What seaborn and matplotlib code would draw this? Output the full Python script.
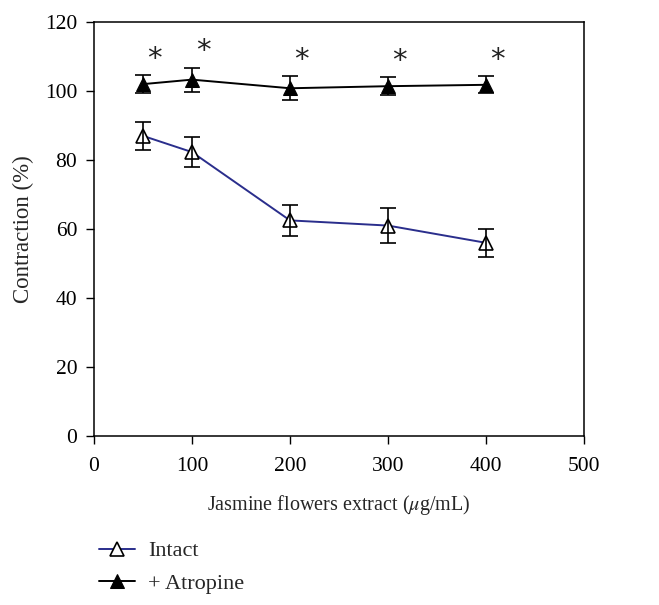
import numpy as np
import pandas as pd
import matplotlib
matplotlib.use("Agg")
import matplotlib.pyplot as plt
import seaborn as sns

# values
dose = [50, 100, 200, 300, 400]
intact = [87, 82.3, 62.5, 61, 56]
intact_err = [4, 4.3, 4.6, 5, 4]
atropine = [102, 103.3, 100.8, 101.4, 101.8]
atropine_err = [2.5, 3.5, 3.5, 2.6, 2.5]
star_labels = ["*", "*", "*", "*", "*"]

sns.set_style("ticks")
plt.rcParams["font.family"] = ["Liberation Serif", "DejaVu Serif"]
plt.rcParams["mathtext.fontset"] = "stix"

df = pd.DataFrame({
    "dose": dose * 2,
    "val": intact + atropine,
    "group": ["Intact"] * 5 + ["+ Atropine"] * 5,
})

fig = plt.figure(figsize=(6.59, 6.05), dpi=100)
ax = fig.add_axes([0.1426, 0.2793, 0.7436, 0.6843])

blue = "#2a2e8c"
sns.lineplot(data=df[df.group == "Intact"], x="dose", y="val", ax=ax, color=blue,
             lw=1.4, marker="^", markersize=10, markerfacecolor="white",
             markeredgecolor="black", markeredgewidth=1.2, label="Intact", zorder=3)
sns.lineplot(data=df[df.group == "+ Atropine"], x="dose", y="val", ax=ax, color="black",
             lw=1.4, marker="^", markersize=10, markerfacecolor="black",
             markeredgecolor="black", label="+ Atropine", zorder=3)

ax.errorbar(dose, intact, yerr=intact_err, fmt="none", ecolor="black",
            elinewidth=1.2, capsize=6, capthick=1.2, zorder=4)
ax.errorbar(dose, atropine, yerr=atropine_err, fmt="none", ecolor="black",
            elinewidth=1.2, capsize=6, capthick=1.2, zorder=2)

for x, y, e, s in zip(dose, atropine, atropine_err, star_labels):
    ax.text(x + 12, y + e + 0.6, s, ha="center", va="bottom", fontsize=21,
            family="DejaVu Sans", color="#222222")

ax.set_xlim(0, 500)
ax.set_ylim(0, 120)
ax.set_xticks(range(0, 501, 100))
ax.set_yticks(range(0, 121, 20))
ax.tick_params(direction="out", length=6, width=1, labelsize=15.5, colors="black")
ax.tick_params(axis="x", pad=9)
ax.tick_params(axis="y", pad=6)
for sp in ax.spines.values():
    sp.set_linewidth(1.1)
    sp.set_color("black")

ax.set_xlabel(r"Jasmine flowers extract ($\mu$g/mL)", fontsize=14.5, labelpad=12)
ax.set_ylabel("Contraction (%)", fontsize=16.5, labelpad=8)

ax.legend(loc="upper left", bbox_to_anchor=(-0.03, -0.205), frameon=False,
          fontsize=16, handlelength=1.6, handletextpad=0.6, labelspacing=0.55)

fig.savefig("out.png", dpi=100)
